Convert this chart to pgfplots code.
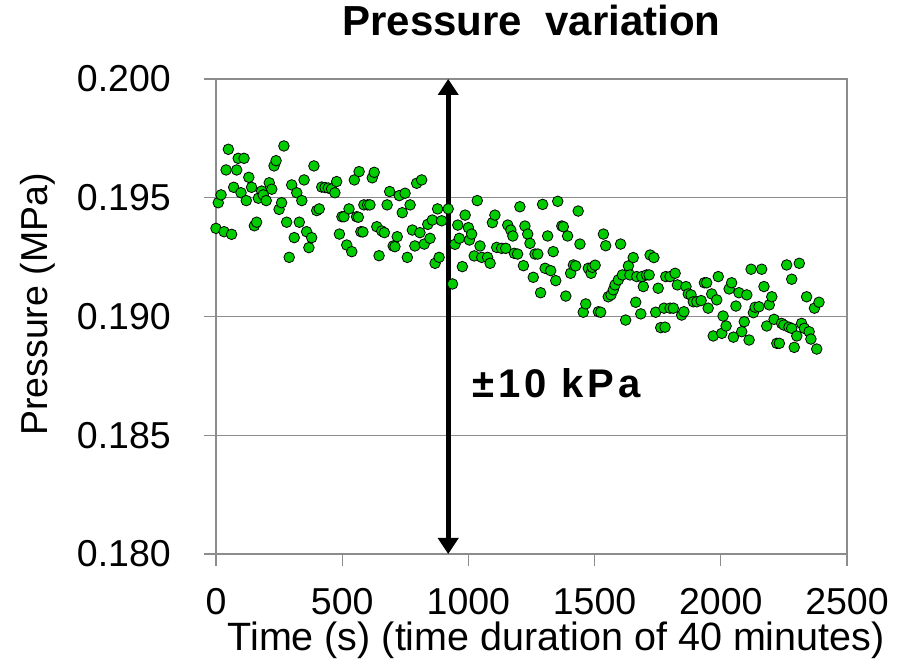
\documentclass[border=0pt]{standalone}
\usepackage{pgfplots}
\pgfplotsset{compat=1.18}
\usepackage{pgfplotstable}
\usepackage{fontspec}
\setmainfont{Liberation Sans}
\usetikzlibrary{arrows.meta}
\definecolor{dotgreen}{RGB}{0,204,0}
\definecolor{axgray}{RGB}{140,140,140}
\newcommand\lblfont{\fontsize{37.5pt}{45pt}\selectfont}
\pgfplotstableread{
t p
0 0.19371
9 0.19479
20 0.19512
32 0.19357
40 0.19617
49 0.19704
62 0.19346
70 0.19544
82 0.19617
88 0.19666
99 0.19521
111 0.19666
120 0.19488
130 0.19586
141 0.19544
152 0.19382
161 0.19397
168 0.19498
181 0.19528
187 0.19512
199 0.19488
211 0.19563
221 0.19536
230 0.19634
238 0.19656
250 0.19451
260 0.19479
269 0.19718
280 0.19397
290 0.19249
300 0.19554
310 0.19332
320 0.19521
330 0.19397
340 0.19488
349 0.19575
359 0.19357
368 0.19290
379 0.19332
388 0.19634
399 0.19446
409 0.19453
419 0.19545
432 0.19543
445 0.19541
458 0.19537
471 0.19521
478 0.19568
489 0.19347
499 0.19420
507 0.19420
518 0.19301
527 0.19453
538 0.19273
548 0.19575
557 0.19420
564 0.19418
567 0.19610
574 0.19357
582 0.19356
586 0.19470
601 0.19470
610 0.19470
619 0.19584
627 0.19607
637 0.19378
646 0.19256
657 0.19360
667 0.19353
678 0.19470
688 0.19526
702 0.19297
709 0.19294
718 0.19336
726 0.19509
738 0.19437
749 0.19519
758 0.19249
769 0.19470
778 0.19364
788 0.19297
795 0.19561
808 0.19353
815 0.19575
825 0.19305
839 0.19388
848 0.19329
857 0.19406
868 0.19224
878 0.19453
884 0.19249
894 0.19403
920 0.19453
937 0.19137
947 0.19304
958 0.19385
964 0.19329
976 0.19210
987 0.19427
1000 0.19374
1004 0.19322
1013 0.19347
1023 0.19255
1035 0.19488
1046 0.19297
1053 0.19249
1076 0.19249
1086 0.19224
1095 0.19395
1105 0.19427
1112 0.19291
1132 0.19287
1148 0.19287
1156 0.19385
1168 0.19364
1176 0.19339
1182 0.19266
1195 0.19263
1204 0.19462
1218 0.19214
1224 0.19381
1235 0.19347
1244 0.19308
1257 0.19165
1264 0.19263
1275 0.19263
1286 0.19100
1294 0.19472
1304 0.19203
1314 0.19339
1326 0.19193
1336 0.19273
1346 0.19151
1354 0.19485
1370 0.19381
1376 0.19378
1386 0.19086
1393 0.19339
1405 0.19182
1416 0.19217
1425 0.19213
1435 0.19444
1442 0.19305
1455 0.19018
1465 0.19053
1475 0.19203
1486 0.19182
1491 0.19207
1502 0.19216
1515 0.19020
1524 0.19018
1535 0.19347
1544 0.19298
1554 0.19083
1565 0.19091
1574 0.19112
1581 0.19133
1594 0.19154
1603 0.19305
1610 0.19175
1623 0.18985
1634 0.19213
1640 0.19175
1653 0.19248
1663 0.19060
1667 0.19168
1683 0.19011
1687 0.19168
1693 0.19126
1706 0.19175
1716 0.19175
1720 0.19259
1735 0.19248
1742 0.19018
1752 0.19119
1762 0.18953
1775 0.19035
1779 0.18955
1782 0.19168
1799 0.19168
1799 0.19035
1812 0.19035
1819 0.19182
1828 0.19133
1845 0.19006
1854 0.19020
1862 0.19126
1871 0.19095
1882 0.19091
1891 0.19062
1905 0.19062
1922 0.19067
1935 0.19142
1944 0.19142
1950 0.19035
1964 0.19095
1970 0.18918
1984 0.19070
1990 0.19168
2004 0.18929
2009 0.19002
2021 0.18960
2033 0.19116
2043 0.19142
2050 0.18913
2060 0.19044
2072 0.19100
2083 0.18936
2093 0.18978
2103 0.19091
2112 0.18901
2120 0.19199
2129 0.19016
2136 0.19039
2151 0.19041
2162 0.19199
2171 0.19126
2182 0.18960
2192 0.19049
2202 0.19083
2211 0.18988
2222 0.18887
2232 0.18887
2241 0.18971
2250 0.18964
2261 0.19217
2270 0.18955
2281 0.19157
2281 0.18950
2291 0.18870
2301 0.18918
2311 0.19224
2320 0.18971
2331 0.18950
2340 0.19083
2350 0.18936
2357 0.18905
2371 0.19035
2380 0.18863
2389 0.19060
}\pressdata
\begin{document}
\begin{tikzpicture}
\useasboundingbox (0,0) rectangle (898pt,672pt);
\begin{axis}[
  scale only axis,
  width=631pt, height=475pt,
  at={(216pt,118pt)}, anchor=south west,
  xmin=0, xmax=2500, ymin=0.180, ymax=0.200,
  xtick={0,500,1000,1500,2000,2500},
  ytick={0.180,0.185,0.190,0.195,0.200},
  scaled x ticks=false, scaled y ticks=false,
  /pgf/number format/assume math mode=true,
  xticklabel style={/pgf/number format/1000 sep={}},
  yticklabel={\pgfmathprintnumber[fixed,fixed zerofill,precision=3]{\tick}},
  tick label style={font=\lblfont},
  xticklabel style={anchor=base, inner sep=0pt, yshift=-49pt},
  yticklabel style={anchor=east, inner sep=0pt, xshift=-33pt},
  xtick pos=bottom, ytick pos=left,
  tick align=outside,
  major tick length=12pt,
  tick style={axgray, line width=1.3pt},
  axis line style={axgray, line width=1.3pt},
  ymajorgrids,
  grid style={axgray, line width=1.3pt},
  title={\bfseries Pressure\ \ variation},
  title style={font=\fontsize{42pt}{48pt}\selectfont, at={(rel axis cs:0.5,1.0779)}, anchor=base, inner sep=0pt},
  xlabel={Time (s) (time duration of 40 minutes)},
  xlabel style={font=\fontsize{39.5pt}{46pt}\selectfont, at={(rel axis cs:0.539,-0.2042)}, anchor=base, inner sep=0pt},
  ylabel={Pressure (MPa)},
  ylabel style={font=\lblfont, at={(rel axis cs:-0.2829,0.5253)}, anchor=center, inner sep=0pt},
  clip=false,
]
\addplot[only marks, mark=*, mark size=5.3pt,
  mark options={fill=dotgreen, draw=black, line width=0.8pt}]
  table[x=t, y=p] {\pressdata};
\draw[black, line width=5pt,
  {Triangle[width=20pt,length=16pt]}-{Triangle[width=20pt,length=16pt]}]
  (axis cs:920,0.200) -- (axis cs:920,0.180);
\node[anchor=base west, inner sep=0pt, font=\fontsize{40pt}{46pt}\selectfont\bfseries\addfontfeature{LetterSpace=10}]
  at (axis cs:1014,0.18657) {±10 kPa};
\end{axis}
\end{tikzpicture}
\end{document}
